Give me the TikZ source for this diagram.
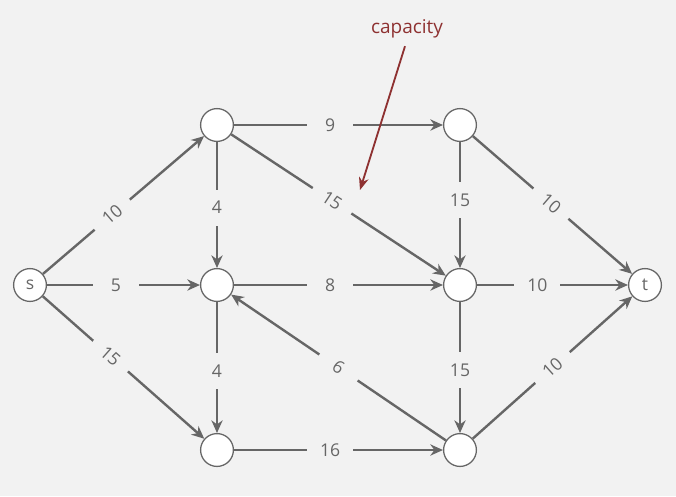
\documentclass[tikz,border=0pt]{standalone}
\usepackage{fontspec}
\setmainfont{Open Sans}
\usetikzlibrary{arrows.meta}
\definecolor{bgcol}{HTML}{F2F2F2}
\definecolor{edgecol}{HTML}{666666}
\definecolor{capcol}{HTML}{8E3131}

\begin{document}
\begin{tikzpicture}[x=0.025cm,y=-0.025cm,
  vertex/.style={circle,draw=edgecol,fill=white,line width=0.9pt,minimum size=0.82cm,inner sep=0pt,
    text=edgecol,font=\fontsize{12.5}{15}\selectfont},
  flow/.style={draw=edgecol,line width=1.7pt,-{Stealth[length=9pt,width=8pt]}},
  caplabel/.style={fill=bgcol,inner sep=0pt,minimum width=1.15cm,minimum height=0.9cm,
    text=edgecol,font=\fontsize{12.5}{15}\selectfont},
  slopelabel/.style={caplabel,sloped,minimum height=0.45cm}]
\fill[bgcol] (0,0) rectangle (676,496);

% vertices
\node[vertex] (s) at (30,285) {s};
\node[vertex] (a) at (217,125) {};
\node[vertex] (b) at (460,125) {};
\node[vertex] (c) at (217,285) {};
\node[vertex] (d) at (460,285) {};
\node[vertex] (e) at (217,450) {};
\node[vertex] (f) at (460,450) {};
\node[vertex] (t) at (645,285) {t};

% edges with capacities
\draw[flow] (s) -- node[slopelabel,pos=0.43] {10} (a);
\draw[flow] (s) -- node[caplabel,pos=0.45] {5} (c);
\draw[flow] (s) -- node[slopelabel,pos=0.42] {15} (e);
\draw[flow] (a) -- node[caplabel,pos=0.46] {9} (b);
\draw[flow] (a) -- node[caplabel,pos=0.52] {4} (c);
\draw[flow] (a) -- node[slopelabel,pos=0.47] {15} (d);
\draw[flow] (b) -- node[caplabel,pos=0.46] {15} (d);
\draw[flow] (b) -- node[slopelabel,pos=0.49] {10} (t);
\draw[flow] (c) -- node[caplabel,pos=0.46] {8} (d);
\draw[flow] (c) -- node[caplabel,pos=0.53] {4} (e);
\draw[flow] (d) -- node[caplabel,pos=0.4] {10} (t);
\draw[flow] (d) -- node[caplabel,pos=0.52] {15} (f);
\draw[flow] (f) -- node[slopelabel,pos=0.5] {6} (c);
\draw[flow] (e) -- node[caplabel,pos=0.46] {16} (f);
\draw[flow] (f) -- node[slopelabel,pos=0.5] {10} (t);

% annotation
\node[text=capcol,font=\fontsize{13.5}{16}\selectfont] (capl) at (407,29) {capacity};
\coordinate (capend) at (360,190);
\draw[capcol,line width=1.3pt,-{Stealth[length=9pt,width=7pt]}] (capl.south) ++(-2,3) -- (capend);
\end{tikzpicture}
\end{document}
